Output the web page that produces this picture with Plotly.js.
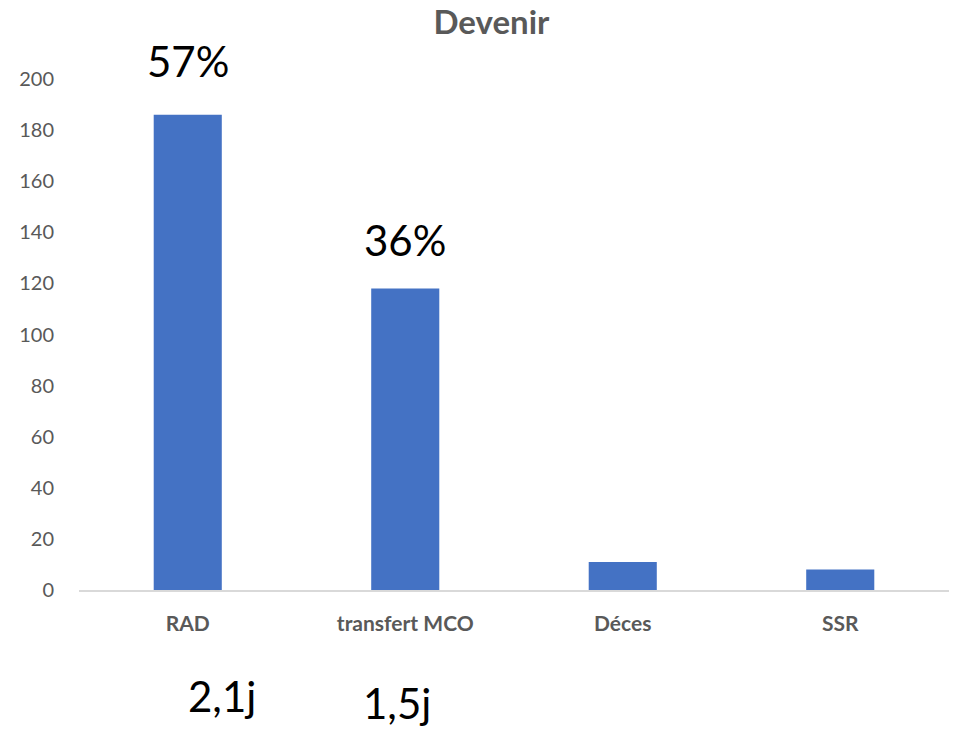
<!DOCTYPE html>
<html>
<head>
<meta charset="utf-8">
<script src="https://cdn.plot.ly/plotly-3.0.1.min.js"></script>
<style>html,body{margin:0;padding:0;background:#fff;}#chart{width:956px;height:732px;}</style>
</head>
<body>
<div id="chart"></div>
<script>
const categories = ['RAD', 'transfert MCO', 'Déces', 'SSR'];
const counts = [186, 118, 11, 8];
const pctLabels = ['57%', '36%'];
const durationLabels = ['2,1j', '1,5j'];
const yTicks = [0, 20, 40, 60, 80, 100, 120, 140, 160, 180, 200];

const FONT = 'Lato, "Open Sans", sans-serif';
const GRAY = '#595959';

const trace = {
  type: 'bar',
  x: categories,
  y: counts,
  marker: {color: '#4472C4'},
  hoverinfo: 'x+y'
};

const pctY = [1.035, 0.685];
const durX = [0.164, 0.366];
const durY = [-0.207, -0.222];

const annotations = [];
pctLabels.forEach((t, i) => {
  annotations.push({
    text: t, xref: 'x', x: categories[i], yref: 'paper', y: pctY[i],
    xanchor: 'center', yanchor: 'middle', showarrow: false,
    font: {family: FONT, size: 42, color: '#000000'}
  });
});
durationLabels.forEach((t, i) => {
  annotations.push({
    text: t, xref: 'paper', x: durX[i], yref: 'paper', y: durY[i],
    xanchor: 'center', yanchor: 'middle', showarrow: false,
    font: {family: FONT, size: 42, color: '#000000'}
  });
});

const layout = {
  width: 956, height: 732,
  margin: {l: 79, r: 7, t: 79, b: 142, pad: 0},
  paper_bgcolor: '#ffffff', plot_bgcolor: '#ffffff',
  showlegend: false,
  bargap: 0.687,
  title: {
    text: '<b>Devenir</b>',
    xref: 'container', x: 0.514, xanchor: 'center',
    yref: 'container', y: 0.969, yanchor: 'middle',
    font: {family: FONT, size: 33, color: GRAY}
  },
  xaxis: {
    type: 'category',
    showgrid: false, zeroline: false,
    showline: true, linecolor: '#D9D9D9', linewidth: 1.5,
    ticks: 'outside', ticklen: 14, tickcolor: 'rgba(0,0,0,0)',
    tickfont: {family: FONT, size: 21, color: GRAY, weight: 'bold'},
    fixedrange: true
  },
  yaxis: {
    range: [0, 200],
    tickvals: yTicks,
    ticktext: yTicks.map(String),
    showgrid: false, zeroline: false, showline: false,
    ticks: 'outside', ticklen: 20, tickcolor: 'rgba(0,0,0,0)',
    tickfont: {family: FONT, size: 20, color: GRAY},
    fixedrange: true
  },
  annotations: annotations
};

Plotly.newPlot('chart', [trace], layout, {displayModeBar: false, staticPlot: true});
</script>
</body>
</html>
